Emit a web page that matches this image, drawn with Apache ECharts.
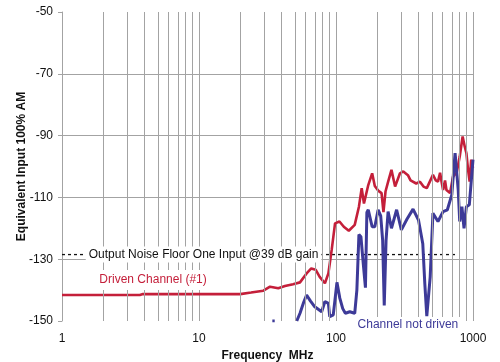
<!DOCTYPE html>
<html>
<head>
<meta charset="utf-8">
<script src="https://cdn.jsdelivr.net/npm/echarts@6/dist/echarts.min.js"></script>
<style>
html,body{margin:0;padding:0;background:#fff;}
#chart{width:500px;height:362px;}
</style>
</head>
<body>
<div id="chart"></div>
<script>
// Tick labels
var yTickLabels = [-150, -130, -110, -90, -70, -50];
var xMinorGrid = [2,3,4,5,6,7,8,9,20,30,40,50,60,70,80,90,200,300,400,500,600,700,800,900];

// Driven Channel (#1)
var redFreq = [1,3.7,3.9,20,24,29.5,33,37.9,42.4,48.6,54.6,61,66,71,76,83,88,93,98.4,106,114,124,137,147,154,160,172,183.6,192,203,215,222,230,240,254,270,293,310,335,350,385,410,435,460,510,535,555,575,590,605,625,640,680,715,760,800,840,870,895,920,945,970,1000];
var redVal  = [-141.6,-141.6,-141.3,-141.3,-140.8,-140.2,-138.9,-139.4,-138.7,-138.1,-137.5,-134.6,-133,-133.4,-135.7,-137.8,-134.6,-127,-118.4,-117.8,-119.5,-120.8,-118.9,-113,-107,-112,-106,-102.2,-106.3,-107.8,-108.6,-114.8,-108,-105,-101.1,-106.5,-102.2,-101.6,-102.8,-104.5,-105.5,-104.9,-106.5,-107,-102.7,-104.5,-104.9,-102,-105,-107.6,-104.5,-107.6,-108.6,-103.3,-102,-96.8,-90.3,-93.5,-95.7,-101,-104.9,-97.8,-100.4];

// Channel not driven
var blueFreq = [34.3,35.7,40,51.7,54.6,58,61,65,70,78.6,83,88,90,95.5,101.6,106.6,112,117,126,137,142,147,152,158,164,168,172,183.6,192,203,212,219,225,232,240,254,277,300,330,365,400,430,445,460,487,510,555,605,650,700,740,780,800,830,860,895,940,1000];
var blueVal  = [-150,-150,'-',-150,-147.5,-144,-141.6,-143.5,-145.4,-147,-143.7,-144.3,-148.6,-148,-137.5,-142.6,-146,-147.5,-147,-147.5,-140,-122,-122.7,-131.3,-139.2,-114.9,-114,-119.5,-119.5,-114,-116,-123.8,-145,-123.8,-114.6,-120,-114,-120.5,-117,-113.8,-117.3,-125,-138,-148.4,-135.7,-115.1,-117.8,-114.6,-114,-109.2,-95.7,-107.6,-117.8,-113,-120,-113,-112.4,-97.8];

// Output noise floor
var floorFreq = [1, 770];
var floorVal = [-128.5, -128.5];

// Annotations
var floorText = 'Output Noise Floor One Input @39 dB gain';
var floorTextPos = [10.8, -128.5];
var redText = 'Driven Channel (#1)';
var redTextPos = [4.62, -136.7];
var blueText = 'Channel not driven';
var blueTextPos = [335, -150];

function zip(a, b){ return a.map(function(v,i){ return [v, b[i]]; }); }

var RED = '#c41f3a', BLUE = '#3d3a98', GRID = '#a3a3a3';
var FONT = 'Liberation Sans, Arial, sans-serif';

var chart = echarts.init(document.getElementById('chart'), null, {renderer:'canvas'});
chart.setOption({
  animation: false,
  backgroundColor: '#fff',
  grid: {left: 62, right: 27, top: 12, bottom: 41, containLabel: false, outerBoundsMode: 'none'},
  xAxis: {
    type: 'log', logBase: 10, min: 1, max: 1000,
    name: 'Frequency  MHz', nameLocation: 'middle', nameGap: 29, nameMoveOverlap: false,
    nameTextStyle: {fontFamily: FONT, fontSize: 12, fontWeight: 'bold', color: '#111'},
    axisLine: {show: false},
    axisTick: {show: false},
    axisLabel: {fontFamily: FONT, fontSize: 12, color: '#111', margin: 12,
      formatter: function(v){ return String(Math.round(v)); }},
    splitLine: {show: true, lineStyle: {color: GRID, width: 1}},
    minorTick: {show: false}, minorSplitLine: {show: false}
  },
  yAxis: {
    type: 'value', min: -150, max: -50, interval: 10,
    name: 'Equivalent Input 100% AM', nameLocation: 'middle', nameGap: 34, nameRotate: 90, nameMoveOverlap: false,
    nameTextStyle: {fontFamily: FONT, fontSize: 12, fontWeight: 'bold', color: '#111'},
    axisLine: {show: true, lineStyle: {color: GRID, width: 1}},
    axisTick: {show: true, length: 4, customValues: yTickLabels, lineStyle: {color: GRID}},
    axisLabel: {fontFamily: FONT, fontSize: 12, color: '#111', margin: 9, customValues: yTickLabels},
    splitLine: {show: true, showMinLine: false, showMaxLine: false, lineStyle: {color: GRID, width: 1}}
  },
  series: [
    {
      type: 'line', z: 1, silent: true,
      data: zip(floorFreq, floorVal),
      symbol: 'none',
      lineStyle: {color: '#111', width: 1.3, type: [3, 3]},
      markLine: {
        silent: true, symbol: ['none','none'], animation: false,
        label: {show: false},
        lineStyle: {color: GRID, width: 1, type: 'solid'},
        data: xMinorGrid.map(function(v){ return {xAxis: v}; })
      }
    },
    {
      type: 'line', z: 3, silent: true,
      data: zip(redFreq, redVal),
      symbol: 'none',
      lineStyle: {color: RED, width: 2.6}
    },
    {
      type: 'line', z: 4, silent: true,
      data: zip(blueFreq, blueVal),
      symbol: 'none', connectNulls: false,
      lineStyle: {color: BLUE, width: 3}
    },
    {
      type: 'line', z: 5, silent: true, data: [],
      markPoint: {
        silent: true, animation: false,
        symbol: 'circle', symbolSize: 1,
        itemStyle: {color: 'rgba(0,0,0,0)'},
        data: [
          {coord: floorTextPos, label: {show: true, position: 'inside', formatter: floorText, fontFamily: FONT, fontSize: 12, color: '#111', backgroundColor: '#fff', padding: [2, 3]}},
          {coord: redTextPos, label: {show: true, position: 'inside', formatter: redText, fontFamily: FONT, fontSize: 12, color: RED, backgroundColor: '#fff', padding: [3, 20, 5, 20]}},
          {coord: blueTextPos, label: {show: true, position: 'inside', offset: [0, 4], formatter: blueText, fontFamily: FONT, fontSize: 12, color: BLUE, backgroundColor: '#fff', padding: [2, 3]}}
        ]
      }
    }
  ]
});
</script>
</body>
</html>
